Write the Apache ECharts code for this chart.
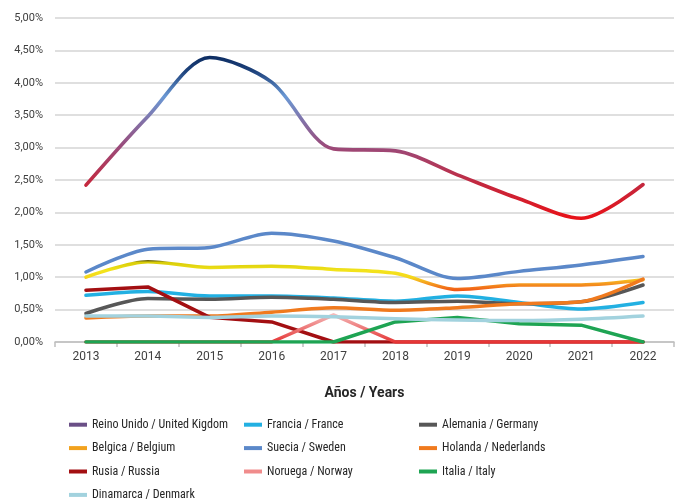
<!DOCTYPE html>
<html>
<head>
<meta charset="utf-8">
<script src="https://cdn.jsdelivr.net/npm/echarts@6/dist/echarts.min.js"></script>
<style>html,body{margin:0;padding:0;background:#fff;}#c{width:681px;height:503px;}</style>
</head>
<body>
<div id="c"></div>
<script>
var years = ['2013','2014','2015','2016','2017','2018','2019','2020','2021','2022'];
var seriesNames = ['Reino Unido / United Kigdom','Francia / France','Alemania / Germany','Belgica / Belgium','Suecia / Sweden','Holanda / Nederlands','Rusia / Russia','Noruega / Norway','Italia / Italy','Dinamarca / Denmark'];
var reinoUnido = [2.42, 3.48, 4.39, 4.01, 2.98, 2.95, 2.58, 2.21, 1.91, 2.43];
var francia    = [0.72, 0.78, 0.71, 0.71, 0.68, 0.63, 0.71, 0.61, 0.51, 0.61];
var alemania   = [0.44, 0.67, 0.66, 0.69, 0.66, 0.61, 0.63, 0.59, 0.62, 0.88];
var belgica    = [1.00, 1.24, 1.15, 1.17, 1.12, 1.06, 0.81, 0.88, 0.88, 0.96];
var suecia     = [1.08, 1.43, 1.46, 1.68, 1.56, 1.30, 0.98, 1.09, 1.19, 1.32];
var holanda    = [0.37, 0.40, 0.40, 0.46, 0.53, 0.49, 0.53, 0.59, 0.62, 0.97];
var rusia      = [0.80, 0.85, 0.38, 0.31, 0.00, 0.00, 0.00, 0.00, 0.00, 0.00];
var noruega    = [0.00, 0.00, 0.00, 0.00, 0.42, 0.00, 0.00, 0.00, 0.00, 0.00];
var italia     = [0.00, 0.00, 0.00, 0.00, 0.00, 0.31, 0.38, 0.28, 0.26, 0.00];
var dinamarca  = [0.40, 0.40, 0.38, 0.40, 0.39, 0.36, 0.34, 0.33, 0.35, 0.40];
var yTicks = {min: 0, max: 5, interval: 0.5};

var G = echarts.graphic.LinearGradient;
var font = "Roboto, 'Noto Sans', sans-serif";
var condFont = "'Roboto Condensed', 'Liberation Sans Narrow', 'DejaVu Sans Condensed', Roboto, sans-serif";

function mk(name, data, legendColor, lineColor, smooth, width) {
  return {
    name: name, type: 'line', data: data, smooth: smooth ? 0.3 : false,
    showSymbol: false, symbol: 'none',
    itemStyle: {color: legendColor},
    lineStyle: {color: lineColor, width: width || 3.5, cap: 'round', join: 'round'},
    emphasis: {disabled: true}
  };
}

var ukGrad = new G(0, 0, 0, 1, [
  {offset: 0, color: '#0c2b60'},
  {offset: 0.1, color: '#1e437d'},
  {offset: 0.25, color: '#6a98d4'},
  {offset: 0.55, color: '#9a4b7b'},
  {offset: 0.78, color: '#c4283e'},
  {offset: 1, color: '#ea1016'}
]);
var beGrad = new G(0, 0, 0, 1, [
  {offset: 0, color: '#2a2a12'},
  {offset: 0.1, color: '#d8cc08'},
  {offset: 0.35, color: '#f3e41c'},
  {offset: 0.55, color: '#f5d81a'},
  {offset: 0.72, color: '#f5a020'},
  {offset: 1, color: '#ef4a14'}
]);
var noGrad = new G(0, 0, 0, 1, [
  {offset: 0, color: '#f6c4c4'},
  {offset: 1, color: '#e42a2a'}
]);

var chart = echarts.init(document.getElementById('c'), null, {renderer: 'canvas'});
chart.setOption({
  animation: false,
  backgroundColor: '#ffffff',
  grid: {left: 55, right: 7, top: 18, bottom: 161, containLabel: false},
  xAxis: {
    type: 'category', data: years, boundaryGap: true,
    name: 'Años / Years', nameLocation: 'middle', nameGap: 44,
    nameTextStyle: {fontFamily: font, fontSize: 14, fontWeight: 'bold', color: '#262626'},
    axisLine: {lineStyle: {color: '#bfbfbf', width: 1.5}},
    axisTick: {show: true, length: 5, alignWithLabel: false, lineStyle: {color: '#bfbfbf', width: 1.5}},
    axisLabel: {fontFamily: font, fontSize: 12, color: '#404040', margin: 9}
  },
  yAxis: {
    type: 'value', min: yTicks.min, max: yTicks.max, interval: yTicks.interval,
    axisLine: {show: false}, axisTick: {show: false},
    splitLine: {lineStyle: {color: '#d4d4d4', width: 1.5}},
    axisLabel: {fontFamily: font, fontSize: 11, color: '#404040', margin: 12,
      formatter: function (v) { return v.toFixed(2).replace('.', ',') + '%'; }}
  },
  legend: {
    left: 69, top: 413, width: 530, orient: 'horizontal', padding: 0,
    itemWidth: 18, itemHeight: 4, itemGap: 0, icon: 'rect',
    data: seriesNames,
    textStyle: {fontFamily: condFont, fontSize: 12, color: '#262626', width: 152, lineHeight: 23.4}
  },
  series: [
    mk(seriesNames[0], reinoUnido, '#6a4f86', ukGrad, true, 3.6),
    mk(seriesNames[1], francia, '#22b0e2', '#22b0e2', true),
    mk(seriesNames[2], alemania, '#575757', '#575757', true),
    mk(seriesNames[3], belgica, '#f2a21e', beGrad, true),
    mk(seriesNames[4], suecia, '#5b88c9', '#5b88c9', true),
    mk(seriesNames[5], holanda, '#f07a1e', '#f07a1e', true),
    mk(seriesNames[6], rusia, '#a30f12', '#a30f12', false),
    mk(seriesNames[7], noruega, '#f08c8c', noGrad, false),
    mk(seriesNames[8], italia, '#1ea453', '#1ea453', false),
    mk(seriesNames[9], dinamarca, '#a2d2de', '#a2d2de', true)
  ]
});
</script>
</body>
</html>
